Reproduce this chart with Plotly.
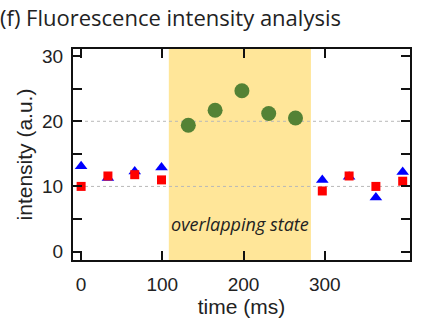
import plotly.graph_objects as go

# Sampling times (ms)
t_before = [0, 33, 66, 99]
t_overlap = [132, 165, 198, 231, 264]
t_after = [297, 330, 363, 396]

# Intensities (a.u.)
red_before = [10.0, 11.6, 11.8, 11.0]
blue_before = [13.1, 11.3, 12.3, 12.9]
green_overlap = [19.4, 21.7, 24.7, 21.2, 20.5]
red_after = [9.3, 11.6, 10.0, 10.8]
blue_after = [11.0, 11.5, 8.3, 12.2]

overlap_span = [108, 283]
x_ticks = [0, 100, 200, 300]
y_ticks = [0, 10, 20, 30]
ref_levels = [10, 20]

tick_font = dict(family="Liberation Sans, Arial, sans-serif", size=19, color="#222")
label_font = dict(family="Liberation Sans, Arial, sans-serif", size=21, color="#222")

fig = go.Figure()

fig.add_vrect(x0=overlap_span[0], x1=overlap_span[1], fillcolor="#FFE699",
              line_width=0, layer="below")
for lv in ref_levels:
    fig.add_hline(y=lv, line=dict(color="#b8b8b8", width=1, dash="3px,3px"), layer="below")

fig.add_trace(go.Scatter(x=t_before + t_after, y=blue_before + blue_after, mode="markers",
                         marker=dict(symbol="triangle-up", size=11, color="#0000FF"),
                         showlegend=False))
fig.add_trace(go.Scatter(x=t_before + t_after, y=red_before + red_after, mode="markers",
                         marker=dict(symbol="square", size=9, color="#FF0000"),
                         showlegend=False))
fig.add_trace(go.Scatter(x=t_overlap, y=green_overlap, mode="markers",
                         marker=dict(symbol="circle", size=15, color="#548235"),
                         showlegend=False))

fig.add_annotation(x=sum(overlap_span) / 2, y=4.2, text="<i>overlapping state</i>",
                   showarrow=False, xanchor="center", yanchor="middle",
                   font=dict(family="Open Sans, sans-serif", size=18, color="#222"))

fig.add_annotation(xref="paper", yref="paper", x=-0.224, y=1.152,
                   text="(f) Fluorescence intensity analysis", showarrow=False,
                   xanchor="left", yanchor="middle",
                   font=dict(family="Open Sans, Noto Sans, sans-serif", size=22, color="#222"))

fig.update_xaxes(range=[-10, 405], tickvals=x_ticks, ticks="inside", ticklen=9,
                 tickwidth=2, tickcolor="#111", showline=True, linecolor="#111",
                 linewidth=2, mirror="ticks", showgrid=False, zeroline=False,
                 tickfont=tick_font, ticklabelstandoff=6,
                 title=dict(text="time (ms)", font=label_font, standoff=4))
fig.update_yaxes(range=[-1.3, 31.1], tickvals=y_ticks, ticks="inside", ticklen=9,
                 tickwidth=2, tickcolor="#111", showline=True, linecolor="#111",
                 linewidth=2, mirror="ticks", showgrid=False, zeroline=False,
                 tickfont=tick_font, ticklabelstandoff=4,
                 minor=dict(tickvals=[5, 15, 25], ticks="inside", ticklen=9,
                            tickwidth=2, tickcolor="#111"),
                 title=dict(text="intensity (a.u.)", font=label_font, standoff=4))

fig.update_layout(width=423, height=325, plot_bgcolor="white", paper_bgcolor="white",
                  margin=dict(l=73, r=11, t=49, b=65))

fig.write_html("out.html")
